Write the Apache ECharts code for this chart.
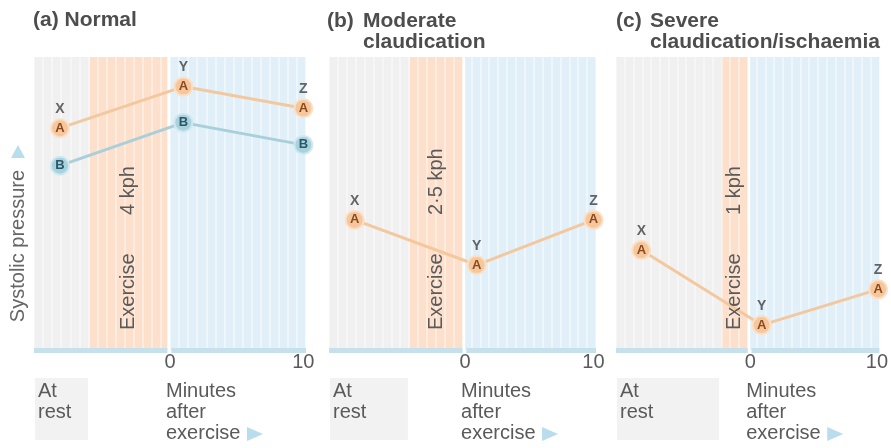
<!DOCTYPE html>
<html><head><meta charset="utf-8">
<script src="https://cdn.jsdelivr.net/npm/echarts@6/dist/echarts.min.js"></script>
<style>html,body{margin:0;padding:0;background:#fff}#c{width:891px;height:448px}</style>
</head><body><div id="c"></div>
<script>
// ---- data ----
const panelLetters = ['(a)', '(b)', '(c)'];
const panelTitleLine1 = ['Normal', 'Moderate', 'Severe'];
const panelTitleLine2 = ['', 'claudication', 'claudication/ischaemia'];
const speeds = ['4 kph', '2·5 kph', '1 kph'];
const pointNames = ['X', 'Y', 'Z'];
const tickLabels = [0, 10];
const minutesNormal = [-8.25, 1, 10];
const minutesModerate = [-8.6, 0.9, 10];
const minutesSevere = [-8.6, 0.9, 10.1];
const normalA = [75.7, 89.9, 82.5];
const normalB = [62.9, 77.6, 70.0];
const moderateA = [44.4, 29.0, 44.4];
const severeA = [34.1, 8.5, 20.7];
const exerciseStart = [-6, -4.3, -2.3];
const exerciseEnd = -0.2;
const axisMin = [-10.2, -10.6, -10.6];
const axisMax = [10.2, 10.2, 10.2];

// ---- layout ----
const gridLeft = [34, 329, 616];
const gridWidth = [272, 267, 267];
const FONT = '"Liberation Sans", Arial, Helvetica, sans-serif';
const GREY = '#5a5a5a';

const panels = [
  { minutes: minutesNormal, series: [['A', normalA], ['B', normalB]] },
  { minutes: minutesModerate, series: [['A', moderateA]] },
  { minutes: minutesSevere, series: [['A', severeA]] }
];
const style = {
  A: { fill: '#f6c79c', border: '#fcdfc4', line: '#f3c89e', text: '#8a4a1c' },
  B: { fill: '#a7d2de', border: '#cfe8ef', line: '#a9cfda', text: '#2c5866' }
};

const grids = [], xAxes = [], yAxes = [], series = [];
panels.forEach((p, i) => {
  grids.push({ left: gridLeft[i], width: gridWidth[i], top: 57, height: 293 });
  xAxes.push({
    type: 'value', gridIndex: i, min: axisMin[i], max: axisMax[i],
    interval: (axisMax[i] - axisMin[i]) / 30, z: 3,
    axisLine: { show: false }, axisTick: { show: false },
    axisLabel: { customValues: tickLabels, color: GREY, fontSize: 20, fontFamily: FONT, margin: 2 },
    splitLine: { show: true, lineStyle: { color: 'rgba(255,255,255,0.4)', width: 2 } }
  });
  yAxes.push({ type: 'value', gridIndex: i, min: 0, max: 100, show: false });
  // background bands + bottom bar
  series.push({
    type: 'line', xAxisIndex: i, yAxisIndex: i, data: [], z: 0, silent: true,
    markArea: {
      silent: true, z: 0,
      data: [
        [{ xAxis: axisMin[i], itemStyle: { color: '#f0f0f0' } }, { xAxis: exerciseStart[i] }],
        [{ xAxis: exerciseStart[i], itemStyle: { color: '#fde0cc' } }, { xAxis: exerciseEnd }],
        [{ xAxis: 0, itemStyle: { color: '#e1f0f8' } }, { xAxis: axisMax[i] }]
      ]
    }
  });
  series.push({
    type: 'line', xAxisIndex: i, yAxisIndex: i, data: [], z: 4, silent: true,
    markLine: {
      silent: true, z: 4, symbol: ['none', 'none'], label: { show: false },
      lineStyle: { color: '#c6e1eb', width: 5, type: 'solid' },
      data: [
        [{ coord: [axisMin[i], 0] }, { coord: [exerciseEnd, 0] }],
        [{ coord: [0.1, 0] }, { coord: [axisMax[i], 0] }]
      ]
    }
  });
  p.series.forEach(([name, vals]) => {
    const s = style[name];
    series.push({
      type: 'line', name, xAxisIndex: i, yAxisIndex: i, z: 5, clip: false, silent: true,
      data: p.minutes.map((m, k) => [m, vals[k]]),
      symbol: 'circle', symbolSize: 18,
      lineStyle: { color: s.line, width: 3 },
      itemStyle: { color: s.fill, borderColor: s.border, borderWidth: 2 },
      label: { show: true, position: 'inside', formatter: name, color: s.text, fontWeight: 'bold', fontSize: 13, fontFamily: FONT }
    });
  });
  // X / Y / Z labels above the top curve
  const top = p.series[0][1];
  series.push({
    type: 'scatter', xAxisIndex: i, yAxisIndex: i, z: 6, clip: false, silent: true,
    data: p.minutes.map((m, k) => ({ value: [m, top[k]], name: pointNames[k] })),
    symbolSize: 18, itemStyle: { color: 'rgba(0,0,0,0)' },
    label: { show: true, position: 'top', distance: 3, formatter: '{b}', color: '#404040', fontWeight: 'bold', fontSize: 14, fontFamily: FONT }
  });
});

const chart = echarts.init(document.getElementById('c'), null, { renderer: 'canvas' });
chart.setOption({ animation: false, backgroundColor: '#fff', grid: grids, xAxis: xAxes, yAxis: yAxes, series });

// ---- annotations ----
const g = [];
g.push({ type: 'polygon', z: 10, shape: { points: [[11, 158], [25, 158], [18, 145]] }, style: { fill: '#b9ddec' } });
g.push({ type: 'text', z: 10, x: 18, y: 246, rotation: Math.PI / 2,
  style: { text: 'Systolic pressure', font: '20px ' + FONT, fill: '#666', align: 'center', verticalAlign: 'middle' } });

const titleX = [[33, 33], [327, 363], [616, 650]];
panels.forEach((p, i) => {
  const px = v => chart.convertToPixel({ gridIndex: i }, [v, 0])[0];
  const xMin = px(axisMin[i]), xEx = px(exerciseStart[i]), x0 = px(0), xEnd = px(exerciseEnd);
  const T = (o) => { o.z = 10; g.push(o); };
  // titles
  if (i === 0) {
    T({ type: 'text', x: titleX[i][0], y: 20, style: { text: panelLetters[i] + ' ' + panelTitleLine1[i], font: 'bold 21px ' + FONT, fill: '#4d4d4d', verticalAlign: 'middle' } });
  } else {
    T({ type: 'text', x: titleX[i][0], y: 21, style: { text: panelLetters[i], font: 'bold 21px ' + FONT, fill: '#4d4d4d', verticalAlign: 'middle' } });
    T({ type: 'text', x: titleX[i][1], y: 21, style: { text: panelTitleLine1[i], font: 'bold 21px ' + FONT, fill: '#4d4d4d', verticalAlign: 'middle' } });
    T({ type: 'text', x: titleX[i][1], y: 42, style: { text: panelTitleLine2[i], font: 'bold 21px ' + FONT, fill: '#4d4d4d', verticalAlign: 'middle' } });
  }
  // at rest box
  T({ type: 'rect', shape: { x: xMin + 1, y: 378, width: xEx - xMin - 3, height: 62 }, style: { fill: '#f2f2f2' } });
  T({ type: 'text', x: xMin + 4, y: 381, style: { text: 'At\nrest', font: '20px ' + FONT, lineHeight: 21, fill: GREY } });
  T({ type: 'text', x: x0 - 4, y: 381, style: { text: 'Minutes\nafter\nexercise', font: '20px ' + FONT, lineHeight: 21, fill: GREY } });
  T({ type: 'polygon', shape: { points: [[x0 + 77, 427], [x0 + 77, 441], [x0 + 93, 434]] }, style: { fill: '#b9ddec' } });
  // exercise label
  const cx = (xEx + xEnd) / 2;
  T({ type: 'text', x: cx, y: 330, rotation: Math.PI / 2, style: { text: 'Exercise', font: '20px ' + FONT, fill: GREY, align: 'left', verticalAlign: 'middle' } });
  T({ type: 'text', x: cx, y: 215, rotation: Math.PI / 2, style: { text: speeds[i], font: '20px ' + FONT, fill: GREY, align: 'left', verticalAlign: 'middle' } });
});
chart.setOption({ graphic: g });
</script></body></html>
